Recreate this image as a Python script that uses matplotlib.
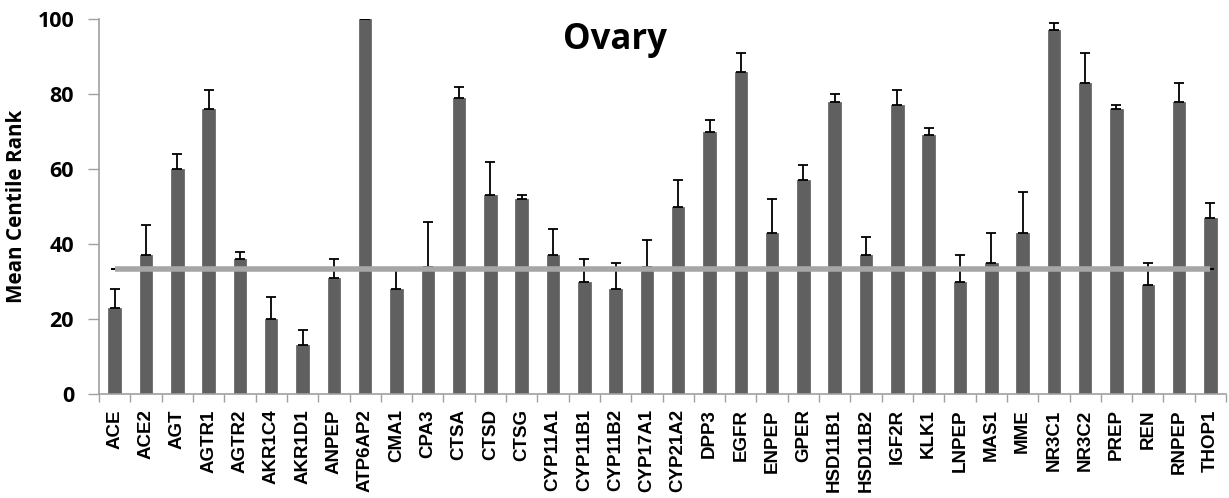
import matplotlib
matplotlib.use('Agg')
from matplotlib import pyplot as plt
import numpy as np

genes = ['ACE', 'ACE2', 'AGT', 'AGTR1', 'AGTR2', 'AKR1C4', 'AKR1D1', 'ANPEP',
         'ATP6AP2', 'CMA1', 'CPA3', 'CTSA', 'CTSD', 'CTSG', 'CYP11A1', 'CYP11B1',
         'CYP11B2', 'CYP17A1', 'CYP21A2', 'DPP3', 'EGFR', 'ENPEP', 'GPER',
         'HSD11B1', 'HSD11B2', 'IGF2R', 'KLK1', 'LNPEP', 'MAS1', 'MME', 'NR3C1',
         'NR3C2', 'PREP', 'REN', 'RNPEP', 'THOP1']
mean_rank = [23, 37, 60, 76, 36, 20, 13, 31, 100, 28, 34, 79, 53, 52, 37, 30,
             28, 34, 50, 70, 86, 43, 57, 78, 37, 77, 69, 30, 35, 43, 97, 83,
             76, 29, 78, 47]
err_up = [5, 8, 4, 5, 2, 6, 4, 5, 0, 5, 12, 3, 9, 1, 7, 6,
          7, 7, 7, 3, 5, 9, 4, 2, 5, 4, 2, 7, 8, 11, 2, 8,
          1, 6, 5, 4]
baseline = 100 / 3

fig = plt.figure(figsize=(12.29, 4.98), dpi=100)
ax = fig.add_axes([0.0806, 0.2088, 0.917, 0.753])

x = np.arange(len(genes))
ax.bar(x, mean_rank, width=0.4, color='#606060', edgecolor='#6a6a6a',
       linewidth=0.6, zorder=2)
ax.errorbar(x, mean_rank, yerr=[np.zeros(len(err_up)), err_up], fmt='none',
            ecolor='black', elinewidth=1.3, capsize=3.5, capthick=1.3, zorder=3)

# expected-rank reference line (one third) with its zero-size error caps
ends = [x[0], x[-1]]
ax.errorbar(ends, [baseline, baseline], yerr=0, fmt='none', ecolor='black',
            elinewidth=0, capsize=3, capthick=1.3, zorder=3)
ax.plot(ends, [baseline, baseline], color='#a6a6a6', lw=4,
        solid_capstyle='butt', zorder=4)

ax.set_xlim(-0.5, len(genes) - 0.5)
ax.set_ylim(0, 100)
ax.set_yticks(range(0, 101, 20))
ax.set_yticklabels([str(v) for v in range(0, 101, 20)],
                   fontfamily='Open Sans', fontweight='bold', fontsize=15.5)
ax.set_xticks(x)
ax.set_xticklabels(genes, rotation=90, fontfamily='Liberation Sans',
                   fontweight='bold', fontsize=13.5)
ax.set_xticks(np.arange(-0.5, len(genes)), minor=True)
ax.tick_params(axis='x', which='major', length=0, pad=11)
ax.tick_params(axis='x', which='minor', length=6, color='#a0a0a0', width=1)
ax.tick_params(axis='y', length=8, color='#a0a0a0', width=1, pad=10)

for side in ['top', 'right']:
    ax.spines[side].set_visible(False)
for side in ['left', 'bottom']:
    ax.spines[side].set_color('#a0a0a0')
    ax.spines[side].set_linewidth(1.2)

ax.set_ylabel('Mean Centile Rank', fontfamily='Open Sans', fontweight='bold',
              fontsize=14.9)
ax.yaxis.set_label_coords(-0.064, 0.5)
fig.text(0.5, 0.92, 'Ovary', ha='center', va='center', fontfamily='Open Sans',
         fontweight='bold', fontsize=25)

fig.savefig('out.png', dpi=100)
